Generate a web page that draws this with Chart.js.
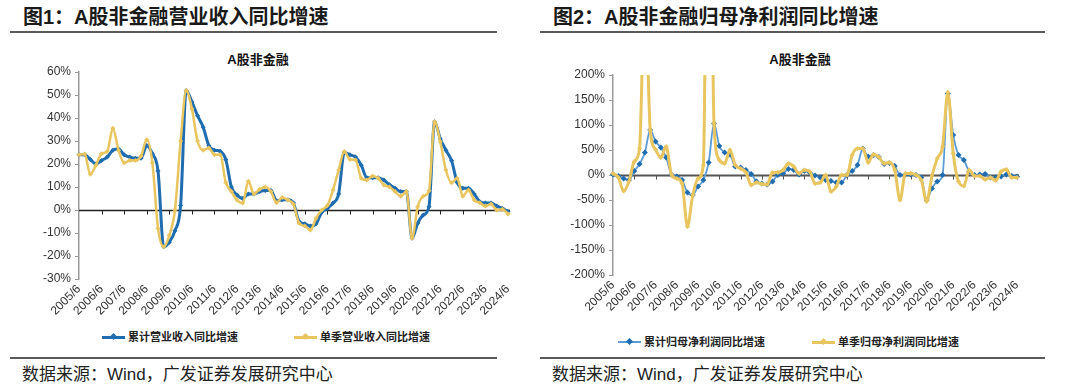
<!DOCTYPE html>
<html>
<head>
<meta charset="utf-8">
<script src="https://cdn.jsdelivr.net/npm/chart.js@4.4.1/dist/chart.umd.min.js"></script>
<style>
  html, body { margin: 0; padding: 0; background: #fff; }
  body { width: 1080px; height: 392px; position: relative; overflow: hidden;
         font-family: "Liberation Sans", "Noto Sans CJK SC", sans-serif; color: #222; }
  .abs { position: absolute; }
  .head { font-size: 20px; font-weight: bold; line-height: 22px; white-space: nowrap; color: #1a1a1a; }
  .rule { height: 2px; background: #5a5a5a; }
  .ctitle { font-family: "Liberation Sans", "Noto Sans CJK SC"; font-size: 13px; font-weight: bold;
            width: 200px; text-align: center; line-height: 14px; color: #111; }
  .legend { font-family: "Noto Sans CJK SC"; font-size: 11px; font-weight: bold; line-height: 14px;
            white-space: nowrap; color: #222; }
  .sw { display: inline-block; width: 23px; height: 3px; position: relative; vertical-align: middle; margin-right: 3px; top: -1px; }
  .sw i { position: absolute; left: 9px; top: -2px; width: 5px; height: 5px; transform: rotate(45deg); }
  .foot { font-size: 17px; line-height: 20px; white-space: nowrap; color: #222; }
  canvas { position: absolute; top: 0; }
</style>
</head>
<body>
<div class="abs head" style="left:23px; top:6px;">图1：A股非金融营业收入同比增速</div>
<div class="abs rule" style="left:10px; top:31px; width:487px;"></div>
<div class="abs head" style="left:553px; top:6px;">图2：A股非金融归母净利润同比增速</div>
<div class="abs rule" style="left:540px; top:31px; width:505px;"></div>

<div class="abs ctitle" style="left:158px; top:53px;">A股非金融</div>
<div class="abs ctitle" style="left:700px; top:53px;">A股非金融</div>

<canvas id="c1" width="540" height="320" style="left:0px;"></canvas>
<canvas id="c2" width="540" height="320" style="left:540px;"></canvas>

<div class="abs legend" style="left:102px; top:329px;"><span class="sw" style="background:#1f6db0"><i style="background:#1f6db0"></i></span>累计营业收入同比增速</div>
<div class="abs legend" style="left:294px; top:329px;"><span class="sw" style="background:#e8c55f"><i style="background:#e8c55f"></i></span>单季营业收入同比增速</div>
<div class="abs legend" style="left:618px; top:334px;"><span class="sw" style="background:#5b9bd5;height:2px"><i style="background:#1f6db0"></i></span>累计归母净利润同比增速</div>
<div class="abs legend" style="left:812px; top:334px;"><span class="sw" style="background:#e8c55f"><i style="background:#e8c55f"></i></span>单季归母净利润同比增速</div>

<div class="abs rule" style="left:10px; top:357px; width:487px;"></div>
<div class="abs rule" style="left:540px; top:357px; width:505px;"></div>
<div class="abs foot" style="left:22px; top:365px;">数据来源：Wind，广发证券发展研究中心</div>
<div class="abs foot" style="left:552px; top:365px;">数据来源：Wind，广发证券发展研究中心</div>

<script>
// quarterly reporting periods, 2005/6 .. 2024/6
const quarters = [
  '2005/6','2005/9','2005/12','2006/3','2006/6','2006/9','2006/12','2007/3',
  '2007/6','2007/9','2007/12','2008/3','2008/6','2008/9','2008/12','2009/3',
  '2009/6','2009/9','2009/12','2010/3','2010/6','2010/9','2010/12','2011/3',
  '2011/6','2011/9','2011/12','2012/3','2012/6','2012/9','2012/12','2013/3',
  '2013/6','2013/9','2013/12','2014/3','2014/6','2014/9','2014/12','2015/3',
  '2015/6','2015/9','2015/12','2016/3','2016/6','2016/9','2016/12','2017/3',
  '2017/6','2017/9','2017/12','2018/3','2018/6','2018/9','2018/12','2019/3',
  '2019/6','2019/9','2019/12','2020/3','2020/6','2020/9','2020/12','2021/3',
  '2021/6','2021/9','2021/12','2022/3','2022/6','2022/9','2022/12','2023/3',
  '2023/6','2023/9','2023/12','2024/3','2024/6'
];

// 图1 revenue growth, %
const revenueCum = [
  24, 24, 22, 20, 21.5, 23, 26, 26.5, 24, 23, 22.5, 22.5, 28, 24.5, 17, -16,
  -14, -9, 2, 52, 47, 41, 36, 28, 26, 25.5, 22, 10, 6.5, 5, 7, 7,
  8, 8.5, 8.5, 4, 4.5, 4.5, 3, -5, -6, -7, -6, -1, 0.7, 3, 7, 25,
  24, 23, 19.5, 14, 14, 14, 13, 11, 9.5, 8, 8, -12.3, -5.8, -2.2, 1.4, 38.4,
  31, 26, 21.5, 12, 9.5, 9.5, 7, 3.6, 3, 3, 1.7, 0.7, -0.7
];
const revenueQtr = [
  24, 24.3, 15.5, 19.5, 24.5, 25.5, 35.5, 26, 20.5, 21.5, 21.5, 23.5, 30.5, 20.5, -8, -16,
  -11, 0, 30, 52, 44, 30, 26, 27, 24, 24, 12, 8, 4.3, 3, 12.5, 7,
  9, 10, 8, 3.2, 5.4, 4.3, 2.5, -5.8, -7, -8.7, -3.6, 0, 2, 8.7, 17.4, 25.4,
  22, 21.7, 13.8, 13, 14.8, 13.8, 10.9, 10, 8, 6, 8, -12.3, 1.4, 6, 8.4, 38.4,
  29.7, 17.4, 11.9, 13.8, 6, 8.7, 4.3, 3.2, 1.7, 2.6, 0, 0.3, -1.7
];

// 图2 net profit attributable to parent growth, %
const profitCum = [
  1, -2, -7, -10, 8, 22, 45, 90, 67, 55, 35, 1, -3, -10, -35, -40,
  -23, -10, 25, 103, 58, 45, 41, 17, 15, 10, 2, -13, -17, -19, -13, 0,
  3, 12, 10, 1, 8, 5, -1, -5, -10, -12, -15, -15, 0, 8, 20, 53,
  37, 40, 36, 22, 24, 18, 0, 1, 1, 0, -5, -50, -27, -13, 0, 163,
  80, 40, 30, 7, 0, 1, 2, -5, -5, -3, 1, -2, -3
];
const profitQtr = [
  3, -5, -32, -13, 27, 53, 380, 90, 51, 35, 57, 1, -7, -17, -103, -40,
  -7, 20, 900, 103, 30, 23, 50, 20, 13, 5, -20, -15, -18, -19, 5, 5,
  10, 23, 17, 3, 10, 7, -17, -15, 0, -33, -23, 0, 0, 40, 53, 53,
  25, 41, 36, 23, 25, 10, -50, 3, 3, 0, -10, -53, -2, 33, 57, 165,
  43, -13, -22, 10, -2, -2, -9, -5, -11, 7, 11, -5, -5
];

const ticks1 = [-30, 60, 10];
const ticks2 = [-200, 200, 50];

const BLUE = '#1f6db0';
const LIGHTBLUE = '#5b9bd5';
const YELLOW = '#e8c55f';
const tickFont = { family: 'Liberation Sans', size: 12 };

// zero axis line with small year tick marks
const zeroAxis = {
  id: 'zeroAxis',
  beforeDatasetsDraw(chart, args, opts) {
    const { ctx, chartArea, scales: { x, y } } = chart;
    const y0 = Math.round(y.getPixelForValue(0)) + 0.5;
    ctx.save();
    ctx.strokeStyle = opts.color;
    ctx.lineWidth = opts.width;
    ctx.beginPath();
    ctx.moveTo(chartArea.left, y0);
    ctx.lineTo(chartArea.right + 2, y0);
    ctx.stroke();
    ctx.lineWidth = 1;
    ctx.beginPath();
    for (let i = 4; i < quarters.length; i += 4) {
      const px = Math.round(x.getPixelForValue(i)) + 0.5;
      ctx.moveTo(px, y0);
      ctx.lineTo(px, y0 + 4);
    }
    ctx.stroke();
    ctx.restore();
  }
};

function makeChart(id, cfg) {
  return new Chart(document.getElementById(id), {
    type: 'line',
    data: {
      labels: quarters,
      datasets: [
        {
          label: cfg.names[0], data: cfg.cum, order: 1,
          borderColor: cfg.cumLine, borderWidth: cfg.cumWidth,
          pointStyle: 'rectRot', pointRadius: cfg.cumPoint, pointBorderWidth: 0,
          pointBackgroundColor: BLUE, cubicInterpolationMode: 'monotone'
        },
        {
          label: cfg.names[1], data: cfg.qtr, order: 0,
          borderColor: YELLOW, borderWidth: cfg.qtrWidth,
          pointStyle: 'rectRot', pointRadius: 2.5, pointBorderWidth: 0,
          pointBackgroundColor: YELLOW, cubicInterpolationMode: 'monotone'
        }
      ]
    },
    options: {
      responsive: false,
      animation: false,
      devicePixelRatio: 1,
      layout: { padding: cfg.padding },
      plugins: {
        legend: { display: false },
        tooltip: { enabled: false },
        zeroAxis: { color: cfg.zeroColor, width: cfg.zeroWidth }
      },
      scales: {
        x: {
          type: 'category',
          grid: { display: false, drawTicks: false },
          border: { display: false },
          ticks: {
            autoSkip: false, minRotation: 45, maxRotation: 45, padding: 3,
            color: '#333', font: tickFont,
            callback: function (v) {
              const l = this.getLabelForValue(v);
              return l.endsWith('/6') ? l : '';
            }
          },
          afterFit: s => { s.height = cfg.xHeight; }
        },
        y: {
          min: cfg.ticks[0], max: cfg.ticks[1],
          grid: { drawOnChartArea: false, drawTicks: true, tickLength: 4, color: '#9a9a9a' },
          border: { display: true, color: '#9a9a9a', width: 1.5 },
          ticks: {
            stepSize: cfg.ticks[2], color: '#333', font: tickFont, padding: 4,
            callback: v => v + '%'
          },
          afterFit: s => { s.width = cfg.yWidth; }
        }
      }
    },
    plugins: [zeroAxis]
  });
}

makeChart('c1', {
  names: ['累计营业收入同比增速', '单季营业收入同比增速'],
  cum: revenueCum, qtr: revenueQtr, ticks: ticks1,
  cumLine: BLUE, cumWidth: 3, cumPoint: 2.5, qtrWidth: 2.5,
  padding: { top: 72, right: 32, left: 0, bottom: 0 },
  xHeight: 41, yWidth: 79,
  zeroColor: '#222', zeroWidth: 1.5
});

makeChart('c2', {
  names: ['累计归母净利润同比增速', '单季归母净利润同比增速'],
  cum: profitCum, qtr: profitQtr, ticks: ticks2,
  cumLine: LIGHTBLUE, cumWidth: 1.8, cumPoint: 3, qtrWidth: 3,
  padding: { top: 75, right: 63, left: 0, bottom: 0 },
  xHeight: 45, yWidth: 73,
  zeroColor: '#555', zeroWidth: 2
});
</script>
</body>
</html>
